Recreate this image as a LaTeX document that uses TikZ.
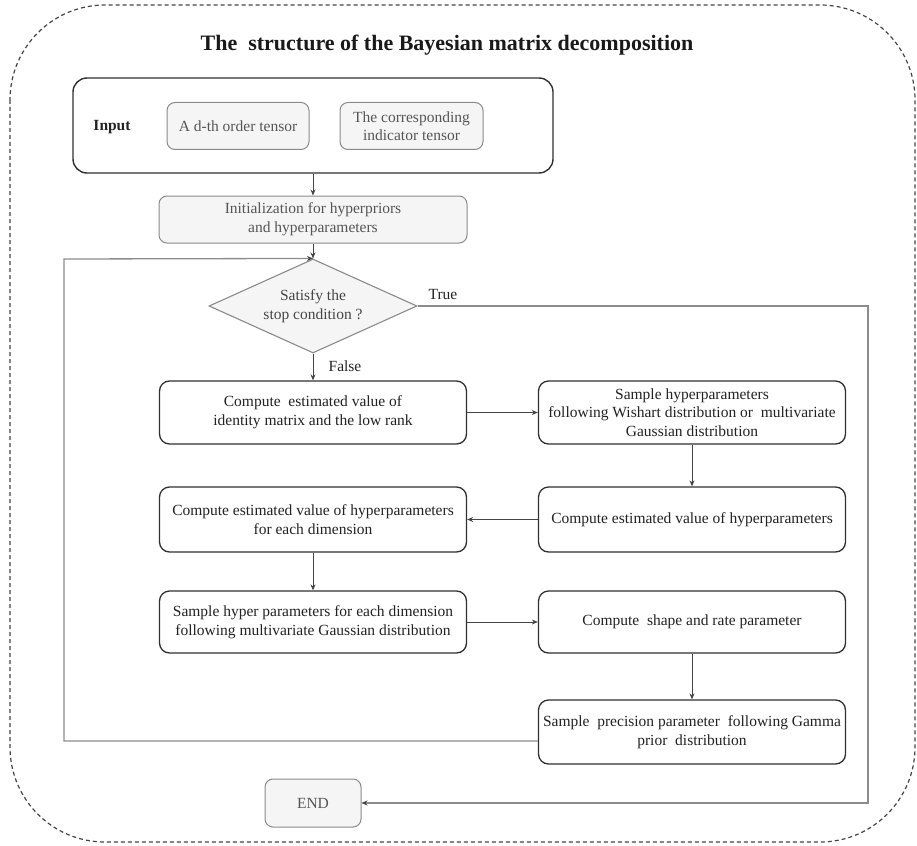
\documentclass[tikz,border=0pt]{standalone}
\usepackage{fontspec}
\setmainfont{Liberation Serif}
\usetikzlibrary{arrows.meta,shapes.geometric}

\definecolor{framegray}{HTML}{444444}
\definecolor{boxline}{HTML}{303030}
\definecolor{textdark}{HTML}{222222}
\definecolor{softline}{HTML}{8A8A8A}
\definecolor{softfill}{HTML}{F5F5F5}
\definecolor{softtext}{HTML}{555555}
\definecolor{linkgray}{HTML}{444444}
\definecolor{pathgray}{HTML}{8C8C8C}

\tikzset{
  basefont/.style={font=\fontsize{15.5}{18.6}\selectfont},
  mainbox/.style={basefont, draw=boxline, line width=1.3pt, rounded corners=10pt,
    fill=white, minimum width=307pt, align=center, inner sep=0pt, text=textdark},
  softbox/.style={basefont, draw=softline, line width=1pt, rounded corners=8pt,
    fill=softfill, align=center, inner sep=0pt, text=softtext},
  link/.style={draw=linkgray, line width=0.9pt, -{Stealth[length=6pt,width=5pt]}},
  routeline/.style={draw=pathgray, line width=1.3pt},
  routearrow/.style={routeline, -{Stealth[length=6pt,width=5pt,color=linkgray]}},
  tag/.style={basefont, text=textdark, inner sep=0pt},
}

\begin{document}
\begin{tikzpicture}[x=1pt,y=-1pt]
\useasboundingbox (0,0) rectangle (917,845);

% outer dashed frame and heading
\draw[framegray, line width=1.2pt, dash pattern=on 4pt off 3pt, rounded corners=95pt]
  (10,5) rectangle (915,842);
\node[font=\fontsize{22}{26}\selectfont\bfseries, text=black!90] (title) at (447,45)
  {The~ structure of the Bayesian matrix decomposition};

% input group
\node[draw=boxline, line width=1.4pt, rounded corners=14pt, minimum width=480pt,
  minimum height=95pt, inner sep=0pt] (input) at (313,125.5) {};
\node[font=\fontsize{15.5}{18.6}\selectfont\bfseries, text=textdark] (inlabel) at (112,127) {Input};
\node[softbox, minimum width=142pt, minimum height=47pt] (tensor) at (238,126) {A d-th order tensor};
\node[softbox, minimum width=143pt, minimum height=47pt] (indic) at (411.5,126) {The corresponding\\indicator tensor};

% initialization
\node[softbox, minimum width=308pt, minimum height=47pt] (init) at (313,219.5)
  {Initialization for hyperpriors\\and hyperparameters};

% stop test
\node[basefont, diamond, aspect=2.2, draw=softline, line width=1.1pt, fill=softfill,
  text=softtext!80!black, minimum width=208pt, minimum height=94pt, inner sep=0pt, align=center]
  (dec) at (313,306) {Satisfy the\\stop condition ?};

% sampling steps
\node[mainbox, minimum height=63pt] (b1) at (313,412.5) {Compute~ estimated value of\\identity matrix and the low rank};
\node[mainbox, minimum height=63pt] (b2) at (692,412.5) {Sample hyperparameters\\following Wishart distribution or~ multivariate\\Gaussian distribution};
\node[mainbox, minimum height=65pt] (b3) at (692,519.5) {Compute estimated value of hyperparameters};
\node[mainbox, minimum height=65pt] (b4) at (313,519.5) {Compute estimated value of hyperparameters\\for each dimension};
\node[mainbox, minimum height=62pt] (b5) at (313,622) {Sample hyper parameters for each dimension\\following multivariate Gaussian distribution};
\node[mainbox, minimum height=62pt] (b6) at (692,622) {Compute~ shape and rate parameter};
\node[mainbox, minimum height=64pt] (b7) at (692,732) {Sample~ precision parameter~ following Gamma\\prior~ distribution};

% end
\node[softbox, minimum width=96pt, minimum height=48pt] (endbox) at (313,803) {END};

% route corners
\coordinate (loopcorner) at (64,259);
\coordinate (truecorner) at (868,306);

% connectors
\draw[link] (input.south) -- (init.north);
\draw[link] (init.south) -- (dec.north);
\draw[link] (dec.south) -- (b1.north);
\draw[link] (b1.east) -- (b2.west);
\draw[link] (b2.south) -- (b3.north);
\draw[link] (b3.west) -- (b4.east);
\draw[link] (b4.south) -- (b5.north);
\draw[link] (b5.east) -- (b6.west);
\draw[link] (b6.south) -- (b7.north);
\draw[routearrow] ([yshift=-9pt]b7.west) -| (loopcorner) -- (dec.north);
\draw[routearrow] (dec.east) -- (truecorner) |- (endbox.east);

% branch labels
\node[tag] (truelab) at (443,294) {True};
\node[tag] (falselab) at (345,366) {False};
\end{tikzpicture}
\end{document}
